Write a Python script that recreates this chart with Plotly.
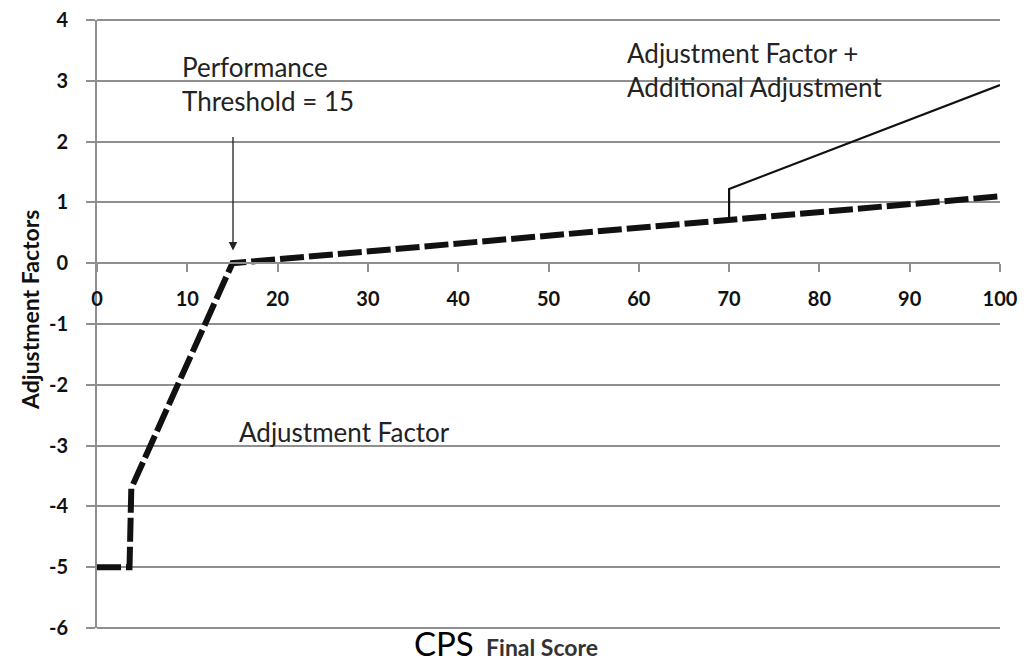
import plotly.graph_objects as go

# Adjustment Factor (dashed)
af_x = [0, 3.6, 3.8, 15, 100]
af_y = [-5, -5, -3.7, 0, 1.1]
# Adjustment Factor + Additional Adjustment (solid)
add_x = [70, 70, 100]
add_y = [0.71, 1.22, 2.93]

x_ticks = [0, 10, 20, 30, 40, 50, 60, 70, 80, 90, 100]
y_ticks = [4, 3, 2, 1, 0, -1, -2, -3, -4, -5, -6]

font_fam = "Lato, Open Sans, sans-serif"
grid_c = "#8f8f8f"

fig = go.Figure()
fig.add_trace(go.Scatter(x=add_x, y=add_y, mode="lines",
                         line=dict(color="#111111", width=2.2), showlegend=False))
fig.add_trace(go.Scatter(x=af_x, y=af_y, mode="lines",
                         line=dict(color="#111111", width=6, dash="24px,5px"), showlegend=False))

fig.update_layout(
    width=1022, height=655,
    margin=dict(l=89, r=30, t=12, b=35),
    paper_bgcolor="white", plot_bgcolor="white",
    font=dict(family=font_fam, color="#111111"),
    xaxis=dict(range=[0, 100], tickvals=x_ticks, ticktext=[str(v) for v in x_ticks],
               showgrid=False, zeroline=False, showline=True, linecolor=grid_c, linewidth=2,
               ticks="outside", ticklen=8, tickwidth=2, tickcolor=grid_c,
               anchor="free", position=0.6, automargin=False, ticklabelstandoff=10,
               tickfont=dict(size=20, family=font_fam, color="#111111", weight="bold")),
    yaxis=dict(range=[-6, 4], tickvals=y_ticks, ticktext=[str(v) for v in y_ticks],
               showgrid=True, gridcolor=grid_c, gridwidth=2, zeroline=False,
               showline=True, linecolor=grid_c, linewidth=2, automargin=False,
               ticks="outside", ticklen=9, tickwidth=2, tickcolor=grid_c,
               ticklabelstandoff=14, ticklabeloverflow="allow",
               tickfont=dict(size=20, family=font_fam, color="#111111", weight="bold")),
)

# top and bottom gridlines at the range edges
for edge in (0, 1):
    fig.add_shape(type="line", xref="paper", yref="paper", x0=0, x1=1, y0=edge, y1=edge,
                  line=dict(color=grid_c, width=2), layer="below")

fig.add_annotation(x=0, y=0.5, xref="paper", yref="paper", xanchor="center", yanchor="middle",
                   xshift=-67, yshift=14, text="<b>Adjustment Factors</b>", textangle=-90,
                   showarrow=False, font=dict(size=23, family=font_fam, color="#111111"))

ann_font = dict(size=26, family=font_fam, color="#222222")
fig.add_annotation(x=9.2, y=2.94, xref="x", yref="y", text="Performance<br>Threshold = 15",
                   showarrow=False, xanchor="left", align="left", font=ann_font)
fig.add_annotation(x=15.06, y=0.21, ax=15.06, ay=2.1, xref="x", yref="y", axref="x", ayref="y",
                   text="", showarrow=True, arrowhead=2, arrowsize=1.3, arrowwidth=1.3,
                   arrowcolor="#222222")
fig.add_annotation(x=58.5, y=3.17, xref="x", yref="y",
                   text="Adjustment Factor +<br>Additional Adjustment",
                   showarrow=False, xanchor="left", align="left", font=ann_font)
fig.add_annotation(x=15.5, y=-2.78, xref="x", yref="y", text="Adjustment Factor",
                   showarrow=False, xanchor="left", font=ann_font)
fig.add_annotation(x=0.349, y=0, xref="paper", yref="paper", xanchor="left", yanchor="bottom",
                   yshift=-37,
                   text="<span style='font-size:33px;color:#000'>CPS</span>"
                        "&nbsp;&nbsp;&nbsp;&nbsp;<b style='font-size:23px;color:#333'>Final Score</b>",
                   showarrow=False, font=dict(family=font_fam))

fig.write_html("out.html")
